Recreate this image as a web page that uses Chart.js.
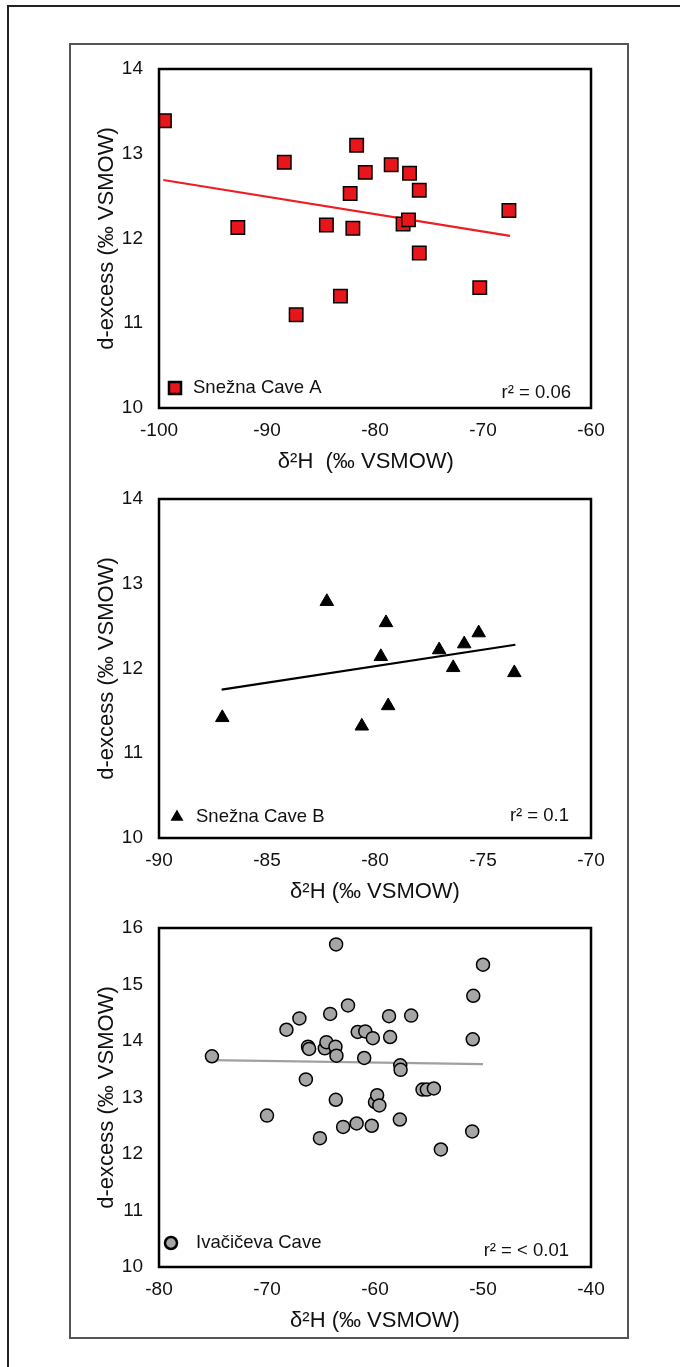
<!DOCTYPE html>
<html>
<head>
<meta charset="utf-8">
<script src="https://cdn.jsdelivr.net/npm/chart.js@4.4.1/dist/chart.umd.min.js"></script>
<style>
  html, body { margin: 0; padding: 0; background: #fff; overflow: hidden; }
  body { width: 680px; height: 1367px; position: relative; }
  .outer { position: absolute; left: 7px; top: 5px; width: 720px; height: 1420px;
           border-left: 2px solid #222; border-top: 2px solid #222; }
  .inner { position: absolute; left: 69px; top: 43px; width: 556px; height: 1292px;
           border: 2px solid #555; }
  .box { position: absolute; left: 75px; width: 545px; height: 428px; }
</style>
</head>
<body>
<div class="outer"></div>
<div class="inner"></div>
<div class="box" style="top:50px"><canvas id="chartA"></canvas></div>
<div class="box" style="top:480px"><canvas id="chartB"></canvas></div>
<div class="box" style="top:909px"><canvas id="chartC"></canvas></div>
<script>
// Snežna Cave A
const caveAX = [-99.5, -88.4, -92.7, -87.3, -84.5, -83.2, -82.3, -82.05, -81.7, -80.9, -78.5, -76.8, -77.4, -76.9, -75.9, -75.9, -70.3, -67.6];
const caveAY = [13.39, 12.90, 12.13, 11.10, 12.16, 11.32, 12.53, 12.12, 13.10, 12.78, 12.87, 12.77, 12.17, 12.22, 12.57, 11.83, 11.42, 12.33];
const trendAX = [-99.6, -67.5];
const trendAY = [12.69, 12.03];

// Snežna Cave B
const caveBX = [-87.07, -82.23, -80.61, -79.73, -79.49, -79.39, -77.03, -76.38, -75.87, -75.20, -73.55];
const caveBY = [11.42, 12.79, 11.32, 12.14, 12.54, 11.56, 12.22, 12.01, 12.29, 12.42, 11.95];
const trendBX = [-87.1, -73.5];
const trendBY = [11.75, 12.28];

// Ivačičeva Cave
const caveCX = [-75.1, -70.0, -68.2, -67.0, -66.4, -66.2, -66.1, -65.1, -64.65, -64.5, -64.15, -63.6, -63.66, -63.57, -63.63, -62.95, -62.5, -61.7, -61.6, -61.0, -60.9, -60.3, -60.2, -60.0, -59.8, -59.6, -58.7, -58.6, -57.7, -57.66, -57.63, -56.65, -55.6, -55.2, -54.55, -53.9, -51.0, -50.95, -50.9, -50.0];
const caveCY = [13.73, 12.68, 14.20, 14.40, 13.32, 13.90, 13.86, 12.28, 13.87, 13.98, 14.48, 15.71, 13.90, 13.74, 12.96, 12.48, 14.63, 12.54, 14.16, 13.70, 14.17, 12.50, 14.05, 12.92, 13.04, 12.86, 14.44, 14.07, 12.61, 13.57, 13.49, 14.45, 13.14, 13.14, 13.16, 12.08, 12.40, 14.03, 14.80, 15.35];
const trendCX = [-75.1, -50.0];
const trendCY = [13.66, 13.59];

const FONT = '"Liberation Sans", Arial, sans-serif';

function toPoints(xs, ys) {
    return xs.map((x, i) => ({ x: x, y: ys[i] }));
}

// frame around the plot area, legend entry and r² label inside it
const framePlugin = {
    id: 'frame',
    afterDraw(chart, args, opts) {
        const { ctx, chartArea: a } = chart;
        ctx.save();
        ctx.strokeStyle = '#000';
        ctx.lineWidth = 2.5;
        ctx.strokeRect(a.left, a.top, a.right - a.left, a.bottom - a.top);

        ctx.fillStyle = opts.markerFill;
        ctx.strokeStyle = '#000';
        Chart.helpers.drawPoint(ctx, {
            pointStyle: opts.markerStyle,
            radius: opts.markerRadius,
            borderWidth: opts.markerBorder,
            rotation: 0
        }, a.left + opts.markerX, a.bottom - opts.markerY);

        ctx.fillStyle = '#111';
        ctx.font = '18.5px ' + FONT;
        ctx.textBaseline = 'middle';
        ctx.textAlign = 'left';
        ctx.fillText(opts.label, a.left + opts.textX, a.bottom - opts.markerY);
        ctx.textAlign = 'right';
        ctx.fillText(opts.rText, a.right - opts.rRight, a.bottom - opts.rY);
        ctx.restore();
    }
};

function createChart(canvasId, cfg) {
    const ctx = document.getElementById(canvasId).getContext('2d');
    new Chart(ctx, {
        type: 'scatter',
        data: {
            datasets: [{
                label: cfg.label,
                data: cfg.points,
                pointStyle: cfg.pointStyle,
                pointRadius: cfg.pointRadius,
                pointBackgroundColor: cfg.fill,
                pointBorderColor: '#000',
                pointBorderWidth: cfg.pointBorder,
                order: 1
            }, {
                type: 'line',
                label: 'trend',
                data: cfg.trend,
                borderColor: cfg.lineColor,
                borderWidth: 2.2,
                pointRadius: 0,
                fill: false,
                order: 2
            }]
        },
        options: {
            responsive: true,
            maintainAspectRatio: false,
            animation: false,
            layout: { padding: { top: 19, right: 29, left: 0, bottom: 0 } },
            scales: {
                x: {
                    type: 'linear',
                    min: cfg.xMin,
                    max: cfg.xMax,
                    grid: { display: false, drawTicks: false },
                    border: { display: false },
                    ticks: {
                        stepSize: cfg.xStep,
                        padding: 11,
                        color: '#111',
                        font: { family: FONT, size: 19 },
                        maxRotation: 0
                    },
                    title: {
                        display: true,
                        text: cfg.xTitle,
                        color: '#111',
                        font: { family: FONT, size: 22 },
                        padding: { top: 0, bottom: 3 }
                    },
                    afterFit: (scale) => {
                        scale.height = 70;
                        scale.paddingLeft = 0;
                        scale.paddingRight = 0;
                    }
                },
                y: {
                    min: cfg.yMin,
                    max: cfg.yMax,
                    grid: { display: false, drawTicks: false },
                    border: { display: false },
                    ticks: {
                        stepSize: 1,
                        padding: 16,
                        color: '#111',
                        font: { family: FONT, size: 19 }
                    },
                    title: {
                        display: true,
                        text: 'd-excess (‰ VSMOW)',
                        color: '#111',
                        font: { family: FONT, size: 22 },
                        padding: { top: 19, bottom: 0 }
                    },
                    afterFit: (scale) => {
                        scale.width = 84;
                        scale.paddingTop = 0;
                        scale.paddingBottom = 0;
                    }
                }
            },
            plugins: {
                legend: { display: false },
                tooltip: { enabled: false },
                frame: cfg.frame
            }
        },
        plugins: [framePlugin]
    });
}

createChart('chartA', {
    label: 'Snežna Cave A',
    points: toPoints(caveAX, caveAY),
    trend: toPoints(trendAX, trendAY),
    pointStyle: 'rect',
    pointRadius: 9.5,
    pointBorder: 1.5,
    fill: '#e8161b',
    lineColor: '#ee1d23',
    xMin: -100, xMax: -60, xStep: 10,
    yMin: 10, yMax: 14,
    xTitle: 'δ²H  (‰ VSMOW)   ',
    frame: { label: 'Snežna Cave A', rText: 'r² = 0.06', markerStyle: 'rect', markerRadius: 8.5,
             markerBorder: 1.5, markerFill: '#e8161b', markerX: 16, markerY: 20, textX: 34, rRight: 20, rY: 15 }
});

createChart('chartB', {
    label: 'Snežna Cave B',
    points: toPoints(caveBX, caveBY),
    trend: toPoints(trendBX, trendBY),
    pointStyle: 'triangle',
    pointRadius: 7.8,
    pointBorder: 1,
    fill: '#000',
    lineColor: '#000',
    xMin: -90, xMax: -70, xStep: 5,
    yMin: 10, yMax: 14,
    xTitle: 'δ²H (‰ VSMOW)',
    frame: { label: 'Snežna Cave B', rText: 'r² = 0.1', markerStyle: 'triangle', markerRadius: 5,
             markerBorder: 1, markerFill: '#000', markerX: 18, markerY: 21, textX: 37, rRight: 22, rY: 22 }
});

createChart('chartC', {
    label: 'Ivačičeva Cave',
    points: toPoints(caveCX, caveCY),
    trend: toPoints(trendCX, trendCY),
    pointStyle: 'circle',
    pointRadius: 6.5,
    pointBorder: 1.5,
    fill: '#a6a6a6',
    lineColor: '#a0a0a0',
    xMin: -80, xMax: -40, xStep: 10,
    yMin: 10, yMax: 16,
    xTitle: 'δ²H (‰ VSMOW)',
    frame: { label: 'Ivačičeva Cave', rText: 'r² = < 0.01', markerStyle: 'circle', markerRadius: 6,
             markerBorder: 1.5, markerFill: '#a6a6a6', markerX: 12, markerY: 24, textX: 37, rRight: 22, rY: 16 }
});
</script>
</body>
</html>
